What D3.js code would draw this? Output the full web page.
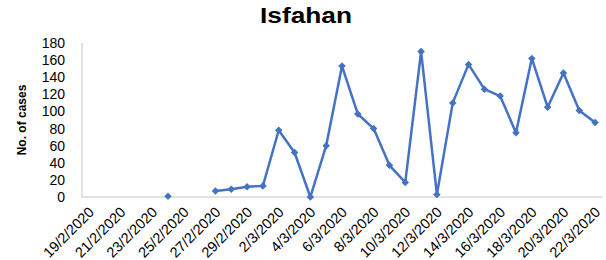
<!DOCTYPE html>
<html lang="en">
<head>
  <meta charset="UTF-8">
  <title>Isfahan</title>
  <style>
    body { margin: 0; background: #fff; }
    .chart text { font-family: "Liberation Sans", Arial, sans-serif; fill: #000; }
    .title { font: bold 22px "Open Sans", sans-serif; }
    .ylabel { font: bold 12px "Open Sans", sans-serif; }
  </style>
</head>
<body>
  <svg class="chart" width="606" height="260"></svg>
  <script src="https://cdn.jsdelivr.net/npm/d3@7"></script>
  <script>
    // dates 19/2/2020 .. 22/3/2020
    var dates = ["19/2/2020", "20/2/2020", "21/2/2020", "22/2/2020", "23/2/2020", "24/2/2020",
      "25/2/2020", "26/2/2020", "27/2/2020", "28/2/2020", "29/2/2020", "1/3/2020", "2/3/2020",
      "3/3/2020", "4/3/2020", "5/3/2020", "6/3/2020", "7/3/2020", "8/3/2020", "9/3/2020",
      "10/3/2020", "11/3/2020", "12/3/2020", "13/3/2020", "14/3/2020", "15/3/2020", "16/3/2020",
      "17/3/2020", "18/3/2020", "19/3/2020", "20/3/2020", "21/3/2020", "22/3/2020"];
    var cases = [null, null, null, null, null, 1, null, null, 7, 9, 12, 13, 78, 52, 0, 60, 153,
      97, 80, 37, 17, 170, 3, 110, 155, 126, 118, 75, 162, 105, 145, 101, 87];
    var xTickLabels = dates.filter(function(d, i) { return i % 2 === 0; });
    var yTicks = [0, 20, 40, 60, 80, 100, 120, 140, 160, 180];

    var svg = d3.select(".chart");

    var x = d3.scaleBand().domain(dates).range([81, 603]);
    var y = d3.scaleLinear().domain([0, 180]).range([197, 43]);
    var cx = function(d) { return x(d) + x.bandwidth() / 2; };

    // baseline + y axis line
    svg.append("line")
      .attr("x1", 81).attr("x2", 603)
      .attr("y1", y(0)).attr("y2", y(0))
      .attr("stroke", "#d9d9d9").attr("stroke-width", 1.5);
    svg.append("line")
      .attr("x1", 82).attr("x2", 82)
      .attr("y1", y(180)).attr("y2", y(0))
      .attr("stroke", "#d9d9d9").attr("stroke-width", 1.5);

    var yAxis = svg.append("g")
      .attr("transform", "translate(82,0)")
      .call(d3.axisLeft(y).tickValues(yTicks).tickSize(0).tickPadding(17));
    yAxis.select(".domain").remove();
    yAxis.selectAll("text").style("font-size", "14px");

    var xAxis = svg.append("g")
      .attr("transform", "translate(0," + y(0) + ")")
      .call(d3.axisBottom(x).tickValues(xTickLabels).tickSize(0));
    xAxis.select(".domain").remove();
    xAxis.selectAll("text")
      .style("font-size", "14.5px")
      .style("text-anchor", "end")
      .attr("y", 0)
      .attr("dy", 0)
      .attr("transform", "translate(6,16) rotate(-45)");

    // line with gaps
    var data = dates.map(function(d, i) { return {date: d, value: cases[i]}; });
    var line = d3.line()
      .defined(function(d) { return d.value !== null; })
      .x(function(d) { return cx(d.date); })
      .y(function(d) { return y(d.value); });

    svg.append("path")
      .datum(data)
      .attr("fill", "none")
      .attr("stroke", "#4472C4")
      .attr("stroke-width", 2.5)
      .attr("stroke-linejoin", "round")
      .attr("d", line);

    svg.selectAll(".marker")
      .data(data.filter(function(d) { return d.value !== null; }))
      .enter().append("path")
      .attr("class", "marker")
      .attr("fill", "#4472C4")
      .attr("transform", function(d) {
        return "translate(" + cx(d.date) + "," + y(d.value) + ")";
      })
      .attr("d", d3.symbol().type(d3.symbolDiamond2).size(36));

    svg.append("text")
      .attr("class", "title")
      .attr("x", 306).attr("y", 23)
      .attr("text-anchor", "middle")
      .attr("textLength", 92)
      .attr("lengthAdjust", "spacingAndGlyphs")
      .text("Isfahan");

    svg.append("text")
      .attr("class", "ylabel")
      .attr("transform", "translate(26,120) rotate(-90)")
      .attr("text-anchor", "middle")
      .text("No. of cases");
  </script>
</body>
</html>
